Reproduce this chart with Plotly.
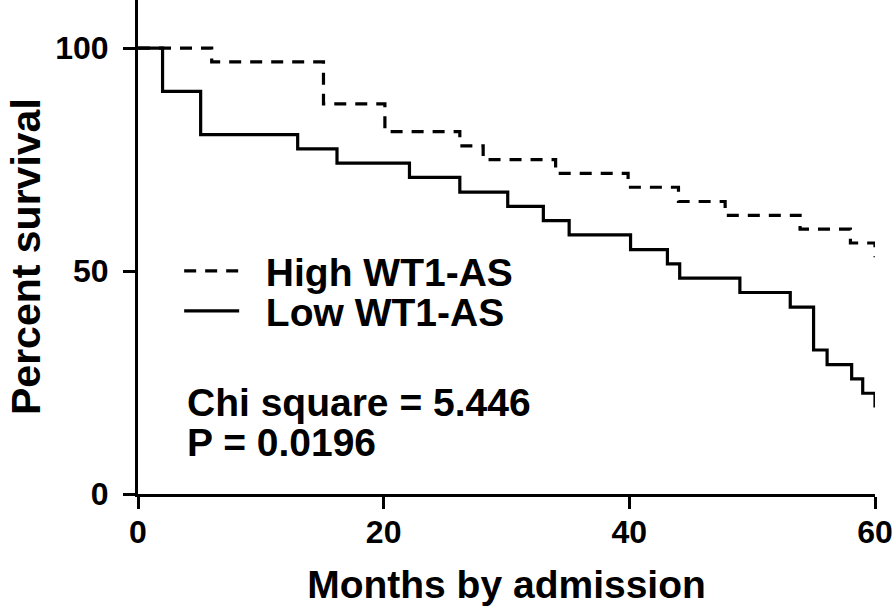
import plotly.graph_objects as go

# Kaplan-Meier step data
high_months = [0, 6.0, 15.1, 20.1, 26.2, 28.1, 34.0, 39.9, 44.0, 47.8, 53.9, 58.0, 60]
high_surv = [100, 96.9, 87.5, 81.3, 78.1, 75.0, 71.9, 68.8, 65.6, 62.5, 59.4, 56.3, 53.1]

low_months = [0, 2.0, 5.1, 13.0, 16.2, 22.1, 26.2, 30.1, 33.0, 35.1, 40.1, 43.1, 44.1,
              49.0, 53.1, 55.0, 56.1, 58.1, 59.0, 60]
low_surv = [100, 90.3, 80.6, 77.4, 74.2, 71.0, 67.7, 64.5, 61.3, 58.1, 54.8, 51.6, 48.4,
            45.2, 41.9, 32.3, 29.0, 25.8, 22.6, 19.4]

x_ticks = [0, 20, 40, 60]
y_ticks = [0, 50, 100]

FONT = "Liberation Sans, Arial, sans-serif"
NB = "\u00a0\u00a0"

fig = go.Figure()
fig.add_trace(go.Scatter(
    x=high_months, y=high_surv, mode="lines", line_shape="hv",
    name=NB + "High WT1-AS", legend="legend",
    line=dict(color="black", width=3.2, dash="12px,9px"),
))
fig.add_trace(go.Scatter(
    x=low_months, y=low_surv, mode="lines", line_shape="hv",
    name=NB + "Low WT1-AS", legend="legend2",
    line=dict(color="black", width=3.2),
))

legend_common = dict(
    font=dict(family=FONT, size=39, color="black", weight="bold"),
    bgcolor="rgba(0,0,0,0)", borderwidth=0, itemwidth=55,
    xanchor="left", yanchor="middle", itemclick=False,
)

fig.update_layout(
    width=896, height=612,
    margin=dict(l=138, r=21, t=0, b=118),
    plot_bgcolor="white", paper_bgcolor="white",
    showlegend=True,
    legend=dict(x=0.045 + 8 / 737, y=1 - 271 / 494, **legend_common),
    legend2=dict(x=0.045 + 8 / 737, y=1 - 311 / 494, **legend_common),
    xaxis=dict(
        range=[0, 60], tickvals=x_ticks, showgrid=False, zeroline=False,
        showline=True, linecolor="black", linewidth=3,
        ticks="outside", ticklen=12, tickwidth=3, tickcolor="black",
        ticklabelstandoff=-4,
        tickfont=dict(family=FONT, size=32, color="black", weight="bold"),
        title=dict(text="Months by admission", standoff=22,
                   font=dict(family=FONT, size=39, color="black", weight="bold")),
    ),
    yaxis=dict(
        range=[0, 110.8], tickvals=y_ticks, showgrid=False, zeroline=False,
        showline=True, linecolor="black", linewidth=3,
        ticks="outside", ticklen=12, tickwidth=3, tickcolor="black",
        ticklabelstandoff=8,
        tickfont=dict(family=FONT, size=32, color="black", weight="bold"),
    ),
    annotations=[
        dict(text="Percent survival", xref="paper", yref="paper",
             x=(26 - 138) / 737, y=1 - 257 / 494, xanchor="center", yanchor="middle",
             textangle=-90, showarrow=False,
             font=dict(family=FONT, size=41, color="black", weight="bold")),
        dict(text="Chi square = 5.446", xref="paper", yref="paper",
             x=(185 - 138) / 737, y=1 - 402 / 494, xanchor="left", yanchor="middle",
             showarrow=False, font=dict(family=FONT, size=39, color="black", weight="bold")),
        dict(text="P = 0.0196", xref="paper", yref="paper",
             x=(185 - 138) / 737, y=1 - 442 / 494, xanchor="left", yanchor="middle",
             showarrow=False, font=dict(family=FONT, size=39, color="black", weight="bold")),
    ],
)

fig.write_html("out.html", config={"displayModeBar": False},
               post_script="document.body.style.margin='0';")
